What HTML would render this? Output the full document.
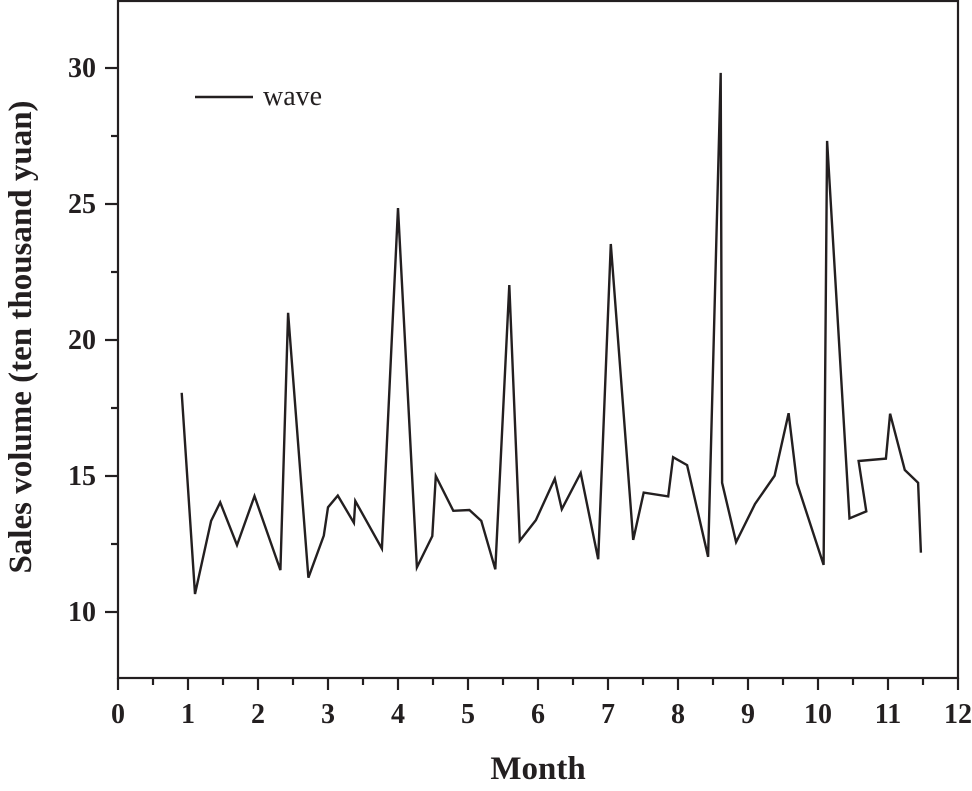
<!DOCTYPE html>
<html><head><meta charset="utf-8"><style>
html,body{margin:0;padding:0;background:#fff;}
svg{display:block;font-family:"Liberation Serif",serif;}
</style></head><body>
<svg id="chart" width="972" height="791" viewBox="0 0 972 791" xmlns="http://www.w3.org/2000/svg">
<g id="axes"></g>
<path id="series" fill="none" stroke="#231f20" stroke-width="2.4" stroke-linejoin="miter"/>
<line x1="195" y1="97" x2="253" y2="97" stroke="#231f20" stroke-width="2.4"/>
<text x="263" y="105" font-size="28" fill="#231f20">wave</text>
<text x="538" y="779" font-size="33" font-weight="bold" text-anchor="middle" fill="#231f20">Month</text>
<text transform="translate(31,337) rotate(-90)" font-size="33" font-weight="bold" text-anchor="middle" fill="#231f20">Sales volume (ten thousand yuan)</text>
</svg>
<script>
const months = [0.91,1.10,1.33,1.46,1.70,1.95,2.32,2.43,2.72,2.94,3.00,3.14,3.37,3.39,3.77,4.00,4.27,4.49,4.54,4.79,5.02,5.19,5.39,5.59,5.74,5.97,6.24,6.34,6.61,6.86,7.04,7.36,7.51,7.86,7.93,8.13,8.43,8.61,8.63,8.83,9.10,9.38,9.58,9.70,10.08,10.13,10.45,10.69,10.58,10.97,11.03,11.24,11.43,11.47];
const sales = [18.06,10.66,13.35,14.03,12.46,14.26,11.54,21.0,11.26,12.81,13.85,14.28,13.28,14.08,12.33,24.85,11.64,12.79,15.0,13.72,13.75,13.35,11.57,22.02,12.62,13.38,14.9,13.78,15.11,11.94,23.53,12.65,14.39,14.25,15.69,15.40,12.03,29.82,14.75,12.57,13.97,15.01,17.31,14.73,11.73,27.32,13.44,13.70,15.55,15.64,17.29,15.22,14.75,12.18];
const xTicks = [0,1,2,3,4,5,6,7,8,9,10,11,12];
const yTicks = [10,15,20,25,30];

const X0=118, X1=958, Y0=678, YT=1;
const xScale = m => X0 + (m-0)/(12-0)*(X1-X0);
const yScale = v => 612 - (v-10)*27.2;
const NS="http://www.w3.org/2000/svg";
const axes=document.getElementById('axes');
function mk(tag,attrs){const e=document.createElementNS(NS,tag);for(const k in attrs)e.setAttribute(k,attrs[k]);axes.appendChild(e);return e;}
const c="#231f20";
let e=mk('rect',{x:X0,y:YT,width:X1-X0,height:Y0-YT,fill:'none',stroke:c,'stroke-width':2.2});


xTicks.forEach((t,i)=>{
  const x=xScale(t);
  let l=mk('line',{x1:x,y1:Y0,x2:x,y2:Y0+12,stroke:c,'stroke-width':2.2});
  
  
  if(i<xTicks.length-1){
    const xm=xScale(t+0.5);
    let m=mk('line',{x1:xm,y1:Y0,x2:xm,y2:Y0+7,stroke:c,'stroke-width':2.2});
    
    
  }
  let tx=mk('text',{x:x,y:Y0+45,'font-size':28,'font-weight':'bold','text-anchor':'middle',fill:c});
  tx.textContent=t;
  
  
});
yTicks.forEach(t=>{
  const y=yScale(t);
  let l=mk('line',{x1:X0-13,y1:y,x2:X0,y2:y,stroke:c,'stroke-width':2.2});
  
  
  let tx=mk('text',{x:X0-22,y:y+9,'font-size':28,'font-weight':'bold','text-anchor':'end',fill:c});
  tx.textContent=t;
  
  
});
[7.5,12.5,17.5,22.5,27.5,32.5].forEach(t=>{
  const y=yScale(t);
  if(y<YT||y>Y0)return;
  let m=mk('line',{x1:X0-7,y1:y,x2:X0,y2:y,stroke:c,'stroke-width':2.2});
  
  
});
let d='';
months.forEach((m,i)=>{d+=(i?'L':'M')+xScale(m).toFixed(1)+' '+yScale(sales[i]).toFixed(1);});
document.getElementById('series').setAttribute('d',d);
</script>
</body></html>
